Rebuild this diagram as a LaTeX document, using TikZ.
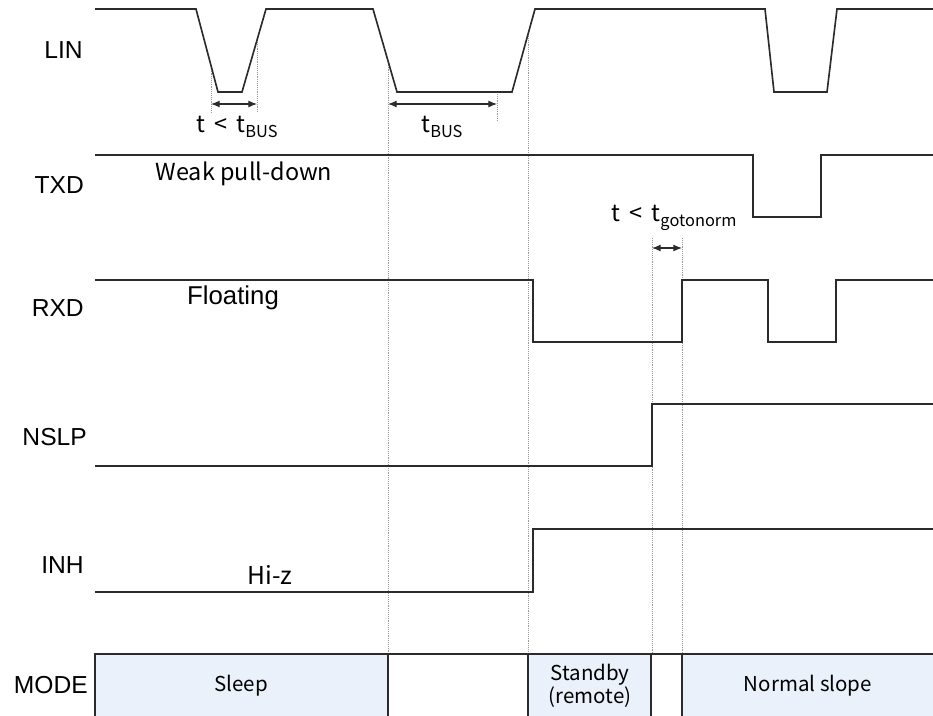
\documentclass[tikz,border=0pt]{standalone}
\usepackage{fontspec}
\setmainfont{Liberation Sans}
\newfontfamily\gothic{Noto Sans CJK JP}
\usepackage{tikz}
\usetikzlibrary{arrows.meta, positioning}
\definecolor{modefill}{HTML}{EAF1FB}
\definecolor{wavecolor}{HTML}{2B2B2B}
\newcommand{\tsub}[1]{\raisebox{-0.4ex}{\fontsize{14}{16}\selectfont #1}}

\begin{document}
\begin{tikzpicture}[
    x=0.3mm, y=-0.3mm,
    siglabel/.style={anchor=east, font=\fontsize{21}{25}\selectfont, inner sep=0pt},
    note/.style={font=\gothic\fontsize{17.5}{20}\selectfont, inner sep=0pt},
    wave/.style={line width=1.4pt, wavecolor, line join=miter},
    guide/.style={densely dotted, gray!80, line width=0.6pt},
    dim/.style={{Latex[length=2.6mm, width=2.1mm]}-{Latex[length=2.6mm, width=2.1mm]}, line width=0.9pt, wavecolor},
    modebox/.style={draw=wavecolor, line width=1.1pt, fill=modefill},
]
\useasboundingbox (0,0) rectangle (933,715);

% Signal names
\node[siglabel] (lin)  at (83,50)  {LIN};
\node[siglabel] (txd)  at (84,185) {TXD};
\node[siglabel] (rxd)  at (84,308) {RXD};
\node[siglabel] (nslp) at (87,437) {NSLP};
\node[siglabel] (inh)  at (84,565) {INH};
\node[siglabel] (mode) at (88,685) {MODE};

% Guide lines
\draw[guide] (211,65) -- (211,113);
\draw[guide] (257,40) -- (257,113);
\draw[guide] (388,61) -- (388,654);
\draw[guide] (497,92) -- (497,122);
\draw[guide] (528,36) -- (528,654);
\draw[guide] (652,238) -- (652,654);
\draw[guide] (682,238) -- (682,654);

% LIN
\draw[wave] (95,9) -- (196,9) -- (218,92) -- (242,92) -- (266,9) -- (373,9)
    -- (397,92) -- (512,92) -- (535,9) -- (765,9) -- (774,92) -- (827,92)
    -- (837,9) -- (933,9);

% TXD
\draw[wave] (95,155) -- (753,155) -- (753,217) -- (821,217) -- (821,155) -- (933,155);
\node[note, font=\gothic\fontsize{20}{23}\selectfont] (pulldown) at (244,174) {Weak pull-down};

% RXD
\draw[wave] (95,280) -- (533,280) -- (533,342) -- (682,342) -- (682,280)
    -- (768,280) -- (768,342) -- (836,342) -- (836,280) -- (933,280);
\node[font=\fontsize{22}{26}\selectfont, inner sep=0pt] (floating) at (233,298) {Floating};

% NSLP
\draw[wave] (95,466) -- (652,466) -- (652,404) -- (933,404);

% INH
\draw[wave] (95,592) -- (533,592) -- (533,529) -- (933,529);
\node[note, font=\gothic\fontsize{21}{24}\selectfont] (hiz) at (270,575) {Hi-z};

% Timing marks
\coordinate (shortA) at (211,104);
\coordinate (shortB) at (257,104);
\coordinate (busA) at (388,104);
\coordinate (busB) at (497,104);
\coordinate (normA) at (652,248);
\coordinate (normB) at (682,248);
\draw[dim] (shortA) -- (shortB);
\draw[dim] (busA) -- (busB);
\draw[dim] (normA) -- (normB);
\node[note, font=\gothic\fontsize{20}{23}\selectfont] (tshort) at (237,127) {t\, < \,t\tsub{BUS}};
\node[note, font=\gothic\fontsize{20}{23}\selectfont] (tbus) at (442,127) {t\tsub{BUS}};
\node[note, font=\gothic\fontsize{20}{23}\selectfont] (tnorm) at (674,218) {t\, < \,t\tsub{gotonorm}};

% MODE row
\draw[modebox] (95,720) rectangle (388,654);
\draw[modebox] (528,720) rectangle (651,654);
\draw[modebox] (682,720) rectangle (940,654);
\draw[wavecolor, line width=1.1pt] (388,654) -- (528,654) (651,654) -- (682,654);
\node[note] (sleep) at (241,686) {Sleep};
\node[note, align=center] (standby) at (590,686) {Standby\\(remote)};
\node[note] (normal) at (808,686) {Normal slope};

\end{tikzpicture}
\end{document}
